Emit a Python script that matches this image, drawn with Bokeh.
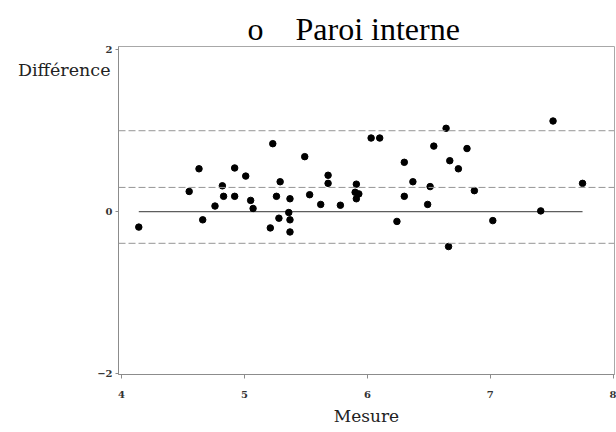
from bokeh.plotting import figure
from bokeh.models import Span, FixedTicker, Range1d, ColumnDataSource, LinearAxis, Title
from bokeh.embed import file_html
from bokeh.resources import INLINE

# ---- data ----
mesure = [4.14, 4.55, 4.63, 4.66, 4.76, 4.82, 4.83, 4.92, 4.92, 5.01,
          5.05, 5.07, 5.21, 5.23, 5.26, 5.28, 5.29, 5.36, 5.37, 5.37,
          5.37, 5.49, 5.53, 5.62, 5.68, 5.68, 5.78, 5.91, 5.90, 5.93,
          5.91, 6.03, 6.10, 6.24, 6.30, 6.30, 6.37, 6.49, 6.51, 6.54,
          6.64, 6.66, 6.67, 6.74, 6.81, 6.87, 7.02, 7.41, 7.51, 7.75]
difference = [-0.19, 0.25, 0.53, -0.10, 0.07, 0.32, 0.19, 0.54, 0.19, 0.44,
              0.14, 0.04, -0.20, 0.84, 0.19, -0.08, 0.37, -0.01, 0.16, -0.10,
              -0.25, 0.68, 0.21, 0.09, 0.45, 0.35, 0.08, 0.34, 0.24, 0.22,
              0.16, 0.91, 0.91, -0.12, 0.61, 0.19, 0.37, 0.09, 0.31, 0.81,
              1.03, -0.43, 0.63, 0.53, 0.78, 0.26, -0.11, 0.01, 1.12, 0.35]
mean_diff = 0.30
upper_loa = 1.00
lower_loa = -0.39
x_ticks = [4, 5, 6, 7, 8]
y_ticks = [-2, 0, 2]
bullet = "o"
title_text = "Paroi interne"
x_label = "Mesure"
y_label = "Différence"

# layout constants
Y_LABEL_POS = 1.747  # vertical position (data units) of the horizontal y label

p = figure(width=616, height=432, output_backend="svg", toolbar_location=None,
           x_range=Range1d(3.975, 8.01), y_range=Range1d(-2.01, 2.04),
           min_border_left=118, min_border_right=2, min_border_top=46,
           min_border_bottom=58)
p.background_fill_color = "white"
p.border_fill_color = "white"
p.outline_line_color = "#a8a8a8"
p.xgrid.visible = False
p.ygrid.visible = False

# axes
for ax in (p.xaxis, p.yaxis):
    ax.axis_line_color = "#8c8c8c"
    ax.major_tick_line_color = "#8c8c8c"
    ax.minor_tick_line_color = None
    ax.major_tick_in = 0
    ax.major_label_text_font = "DejaVu Serif"
    ax.major_label_text_font_size = "10px"
    ax.major_label_text_font_style = "bold"
    ax.major_label_text_color = "#333333"

p.xaxis.ticker = FixedTicker(ticks=x_ticks)
p.xaxis.major_tick_out = 4
p.xaxis.major_label_standoff = 12
p.xaxis.axis_label = x_label
p.xaxis.axis_label_text_font = "DejaVu Serif"
p.xaxis.axis_label_text_font_size = "17px"
p.xaxis.axis_label_text_font_style = "normal"
p.xaxis.axis_label_text_color = "#222222"
p.xaxis.axis_label_standoff = 5

p.yaxis.ticker = FixedTicker(ticks=y_ticks)
p.yaxis.major_tick_out = 3
p.yaxis.major_label_standoff = 3

# horizontal y label drawn as a label-only axis
lab_axis = LinearAxis(ticker=FixedTicker(ticks=[Y_LABEL_POS]),
                      major_label_overrides={Y_LABEL_POS: y_label},
                      axis_line_color=None, major_tick_line_color=None,
                      minor_tick_line_color=None, major_tick_out=0, major_tick_in=0,
                      major_label_standoff=-16,
                      major_label_text_font="DejaVu Serif",
                      major_label_text_font_size="17.5px",
                      major_label_text_color="#222222")
p.add_layout(lab_axis, "left")

# title
p.add_layout(Title(text=bullet + "\u00a0" * 4 + title_text, align="left", offset=129,
                   standoff=0, text_font="Liberation Serif", text_font_size="32px",
                   text_font_style="normal", text_color="black"), "above")

# reference lines
for loc in (upper_loa, mean_diff, lower_loa):
    p.add_layout(Span(location=loc, dimension="width", line_color="#959595",
                      line_width=1, line_dash="7 3"))
p.line([min(mesure), max(mesure)], [0, 0], line_color="#5e5e5e", line_width=1.2)

src = ColumnDataSource(dict(x=mesure, y=difference))
p.scatter("x", "y", source=src, size=6.5, fill_color="black", line_color="black")

open("out.html", "w").write(file_html(p, INLINE))
